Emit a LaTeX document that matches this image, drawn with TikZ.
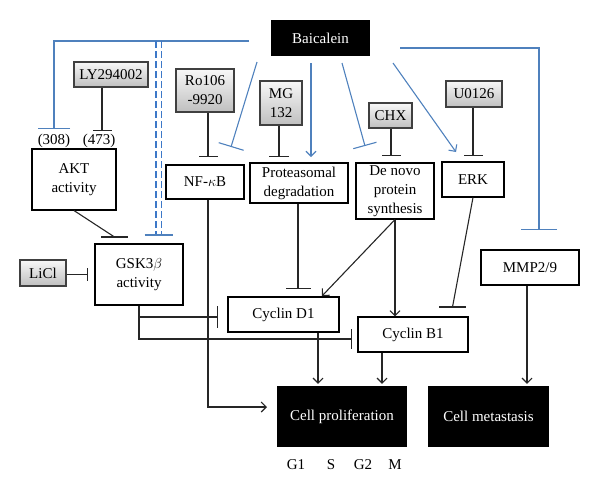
\documentclass[tikz,border=0pt]{standalone}
\usepackage{fontspec}
\setmainfont{Liberation Serif}
\usetikzlibrary{arrows.meta,calc}
\definecolor{bblue}{RGB}{79,129,189}
\definecolor{dblue}{RGB}{60,120,200}
\begin{document}
\begin{tikzpicture}[x=1pt,y=-1pt,
  font=\fontsize{15}{19}\selectfont,
  sz/.style 2 args={minimum width=#1pt, minimum height=#2pt},
  wbox/.style={draw=black, line width=1.1pt, fill=white, inner sep=0pt, align=center},
  gbox/.style={draw=black!75, line width=1.1pt, top color=gray!6, bottom color=gray!50, inner sep=0pt, align=center},
  kbox/.style={fill=black, text=white, inner sep=0pt, align=center},
  ln/.style={line width=1.1pt, black!85},
  bln/.style={line width=1.1pt, bblue},
  dln/.style={line width=1.2pt, dblue, dash pattern=on 7pt off 3pt},
  arr/.style={-{Straight Barb[length=5pt,width=10pt]}},
  inh/.style={-{Bar[width=#1]}},
  lbl/.style={inner sep=0pt},
]
\useasboundingbox (0,0) rectangle (600,496);

% nodes
\node[kbox, sz={99}{36}] (bai) at (320.5,38) {Baicalein};
\node[gbox, sz={74}{25}] (ly) at (111,74.5) {LY294002};
\node[wbox, sz={84}{61}] (akt) at (74,179.5) {AKT\\activity};
\node[gbox, sz={58}{43}] (ro) at (205,90.5) {Ro106\\-9920};
\node[wbox, sz={78}{34}] (nfkb) at (205,182) {NF-$\kappa$B};
\node[gbox, sz={42}{44}] (mg) at (281,103) {MG\\132};
\node[wbox, sz={98}{40}] (prot) at (299,183) {Proteasomal\\degradation};
\node[gbox, sz={43}{25}] (chx) at (390.5,115.5) {CHX};
\node[wbox, sz={78}{56}] (dn) at (395,191) {De novo\\protein\\synthesis};
\node[gbox, sz={56}{26}] (u0) at (474,94) {U0126};
\node[wbox, sz={62}{35}] (erk) at (473,179.5) {ERK};
\node[wbox, sz={98}{35}] (mmp) at (530,267.5) {MMP2/9};
\node[wbox, sz={88}{61}] (gsk) at (139,274.5) {GSK3$\beta$\\activity};
\node[gbox, sz={46}{26}] (licl) at (43,273) {LiCl};
\node[wbox, sz={111}{35}] (cd1) at (283.5,314.5) {Cyclin D1};
\node[wbox, sz={110}{35}] (cb1) at (413,334.5) {Cyclin B1};
\node[kbox, sz={130}{61}] (prol) at (342,416.5) {Cell proliferation};
\node[kbox, sz={121}{61}] (meta) at (488.5,416.5) {Cell metastasis};

\node[lbl] (l308) at (54,141) {(308)};
\node[lbl] (l473) at (99,141) {(473)};
\node[lbl] (g1) at (296,465) {G1};
\node[lbl] (s) at (331,465) {S};
\node[lbl] (g2) at (363,465) {G2};
\node[lbl] (m) at (395,465) {M};

% free-end coordinates
\coordinate (bL) at (249,41);
\coordinate (a308) at (54,129);
\coordinate (dTop) at (158.5,41);
\coordinate (dBot) at (158.5,235);
\coordinate (a473) at (102,131);
\coordinate (gA) at (114.5,237);
\coordinate (nfT) at (208,157);
\coordinate (bN0) at (257,62);
\coordinate (bN1) at (231,147);
\coordinate (pT) at (279,157);
\coordinate (bP0) at (311,63);
\coordinate (bP1) at (311,157);
\coordinate (bD0) at (342,63);
\coordinate (bD1) at (365,146);
\coordinate (dT) at (391,156);
\coordinate (bE0) at (393,63);
\coordinate (bE1) at (456,152);
\coordinate (eT) at (473,156);
\coordinate (bM0) at (400,48);
\coordinate (mT) at (539,230);
\coordinate (mx) at (527,300);
\coordinate (c1T) at (298,289);
\coordinate (dnD1) at (322,296);
\coordinate (bT) at (452.5,307);
\coordinate (gL) at (88,274.5);
\coordinate (cd1L) at (218,317);
\coordinate (cb1L) at (352,339);
\coordinate (x318) at (318,0);
\coordinate (x382) at (382,0);
\coordinate (pW) at (267,407);
\coordinate (nfx) at (208,0);

% blue connectors
\draw[bln, inh=32pt] (bL) -| (a308);
\draw[dln] ([xshift=-2.6pt]dTop) -- ([xshift=-2.6pt]dBot);
\draw[dln] ([xshift=2.6pt]dTop) -- ([xshift=2.6pt]dBot);
\draw[bln] ([xshift=-14pt]dBot) -- ([xshift=14pt]dBot);
\draw[bln, inh=26pt] (bN0) -- (bN1);
\draw[bln, arr] (bP0) -- (bP1);
\draw[bln, inh=24pt] (bD0) -- (bD1);
\draw[bln, arr] (bE0) -- (bE1);
\draw[bln, inh=36pt] (bM0) -| (mT);

% black connectors
\draw[ln, inh=19pt] (ly.south -| a473) -- (a473);
\draw[ln] (akt.south) -- (gA);
\draw[ln] ([xshift=-13.5pt]gA) -- ([xshift=13.5pt]gA);
\draw[ln, inh=19pt] (ro.south -| nfT) -- (nfT);
\draw[ln, inh=20pt] (mg.south -| pT) -- (pT);
\draw[ln, inh=19pt] (chx.south -| dT) -- (dT);
\draw[ln, inh=19pt] (u0.south -| eT) -- (eT);
\draw[ln, arr, shorten >=2pt] (mmp.south -| mx) -- (meta.north -| mx);
\draw[ln, inh=25pt] (prot.south -| c1T) -- (c1T);
\draw[ln, arr] (dn.south) -- (dnD1);
\draw[ln, arr] (dn.south) -- (cb1.north -| dn.south);
\draw[ln] (erk.south) -- (bT);
\draw[ln] ([xshift=-13.5pt]bT) -- ([xshift=13.5pt]bT);
\draw[ln, inh=13pt] (licl.east |- gL) -- (gL);
\draw[ln, inh=22pt] (gsk.south) |- (cd1L);
\draw[ln, inh=20pt] (gsk.south) |- (cb1L);
\draw[ln, arr, shorten >=2pt] (cd1.south -| x318) -- (prol.north -| x318);
\draw[ln, arr, shorten >=2pt] (cb1.south -| x382) -- (prol.north -| x382);
\draw[ln, arr] (nfkb.south -| nfx) |- (pW);
\end{tikzpicture}
\end{document}
